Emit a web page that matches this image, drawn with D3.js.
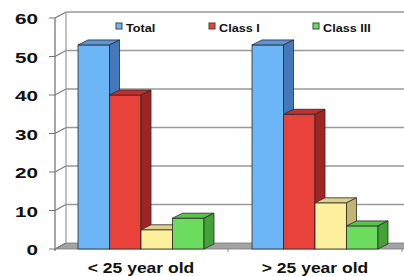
<!DOCTYPE html>
<html>
<head>
  <meta charset="utf-8">
  <script src="https://d3js.org/d3.v7.min.js"></script>
  <style type="text/css">
    body { margin: 0; background: #fff; }
    text { font-family: "Liberation Sans", Arial, sans-serif; font-weight: bold; fill: #111; }
  </style>
</head>
<body>
  <div id="chartContainer"></div>
  <script type="text/javascript">
    // data
    var categories = ['< 25 year old', '> 25 year old'];
    var seriesNames = ['Total', 'Class I', 'Class II', 'Class III'];
    var total = [53, 53];
    var classI = [40, 35];
    var classII = [5, 12];
    var classIII = [8, 6];
    var yTicks = [0, 10, 20, 30, 40, 50, 60];
    var legendNames = ['Total', 'Class I', 'Class III'];

    var seriesValues = [total, classI, classII, classIII];
    var colors = {
      'Total':     { front: '#6cb6f7', top: '#5a95d6', side: '#4677b8' },
      'Class I':   { front: '#e8423a', top: '#c42f2b', side: '#9e2523' },
      'Class II':  { front: '#fdf09c', top: '#ddd08a', side: '#c2b574' },
      'Class III': { front: '#6cdc5e', top: '#58c24a', side: '#45a238' }
    };

    var W = 404, H = 276;
    var wallDx = 11, wallDy = -6;   // depth of walls
    var barDx = 10, barDy = -5;     // depth of bars

    var svg = d3.select('#chartContainer').append('svg')
      .attr('width', W).attr('height', H);

    var y = d3.scaleLinear().domain([0, 60]).range([249, 18]);
    var x0 = d3.scaleBand().domain(categories).range([54, 402])
      .paddingInner(0.276).paddingOuter(0.138);
    var x1 = d3.scaleBand().domain(seriesNames).range([0, x0.bandwidth()]);

    var left = 55, right = 420;
    function pts(a) { return a.map(function(p) { return p.join(','); }).join(' '); }

    // back wall
    svg.append('polygon')
      .attr('points', pts([[left + wallDx, y(60) + wallDy], [right, y(60) + wallDy],
                           [right, y(0) + wallDy], [left + wallDx, y(0) + wallDy]]))
      .attr('fill', '#fff');

    // floor
    svg.append('polygon')
      .attr('points', pts([[left, y(0)], [left + wallDx, y(0) + wallDy],
                           [right, y(0) + wallDy], [right, y(0)]]))
      .attr('fill', '#a3a3a3').attr('stroke', '#777').attr('stroke-width', 0.8);

    // gridlines on back wall + left wall diagonals
    yTicks.forEach(function(t) {
      if (t > 0) {
        svg.append('line')
          .attr('x1', left + wallDx).attr('x2', right)
          .attr('y1', y(t) + wallDy).attr('y2', y(t) + wallDy)
          .attr('stroke', '#999').attr('stroke-width', 1.3);
      }
      svg.append('polyline')
        .attr('points', pts([[left - 6, y(t)], [left, y(t)], [left + wallDx, y(t) + wallDy]]))
        .attr('fill', 'none').attr('stroke', '#777').attr('stroke-width', 1.2);
    });

    // left wall verticals
    svg.append('line').attr('x1', left).attr('x2', left)
      .attr('y1', y(60)).attr('y2', y(0) + 2)
      .attr('stroke', '#777').attr('stroke-width', 1.3);
    svg.append('line').attr('x1', left + wallDx).attr('x2', left + wallDx)
      .attr('y1', y(60) + wallDy).attr('y2', y(0) + wallDy)
      .attr('stroke', '#999').attr('stroke-width', 1.2);

    // category ticks on the floor front
    [x0.range()[0] + x0.step(), x0.range()[0] + 2 * x0.step()].forEach(function(tx) {
      svg.append('line').attr('x1', tx).attr('x2', tx)
        .attr('y1', y(0)).attr('y2', y(0) + 3)
        .attr('stroke', '#888').attr('stroke-width', 1);
    });

    // bars
    var bars = svg.append('g');
    categories.forEach(function(cat, ci) {
      seriesNames.forEach(function(name, si) {
        var v = seriesValues[si][ci];
        var bx = x0(cat) + x1(name), bw = x1.bandwidth();
        var top = y(v), base = y(0);
        var c = colors[name];
        bars.append('rect')
          .attr('x', bx).attr('y', top).attr('width', bw).attr('height', base - top)
          .attr('fill', c.front).attr('stroke', '#2a2a2a').attr('stroke-width', 0.8);
        bars.append('polygon')
          .attr('points', pts([[bx, top], [bx + barDx, top + barDy],
                               [bx + bw + barDx, top + barDy], [bx + bw, top]]))
          .attr('fill', c.top).attr('stroke', '#2a2a2a').attr('stroke-width', 0.8);
        bars.append('polygon')
          .attr('points', pts([[bx + bw, top], [bx + bw + barDx, top + barDy],
                               [bx + bw + barDx, base + barDy], [bx + bw, base]]))
          .attr('fill', c.side).attr('stroke', '#2a2a2a').attr('stroke-width', 0.8);
      });
    });

    // y tick labels
    yTicks.forEach(function(t) {
      svg.append('text')
        .attr('transform', 'translate(38,' + (y(t) + 6) + ') scale(1.38,1)')
        .attr('text-anchor', 'end')
        .style('font-size', '15px')
        .text(t);
    });

    // category labels
    categories.forEach(function(cat) {
      svg.append('text')
        .attr('transform', 'translate(' + (x0(cat) + x0.bandwidth() / 2) + ',273) scale(1.25,1)')
        .attr('text-anchor', 'middle')
        .style('font-size', '14px')
        .text(cat);
    });

    // legend
    var legendX = [116, 209, 313];
    legendNames.forEach(function(name, i) {
      var g = svg.append('g').attr('transform', 'translate(' + legendX[i] + ',23)');
      g.append('rect').attr('x', 0).attr('y', 0).attr('width', 6).attr('height', 6)
        .attr('fill', colors[name].front).attr('stroke', '#444').attr('stroke-width', 1);
      g.append('text')
        .attr('transform', 'translate(10,8.5) scale(1.15,1)')
        .style('font-size', '11px')
        .text(name);
    });
  </script>
</body>
</html>
